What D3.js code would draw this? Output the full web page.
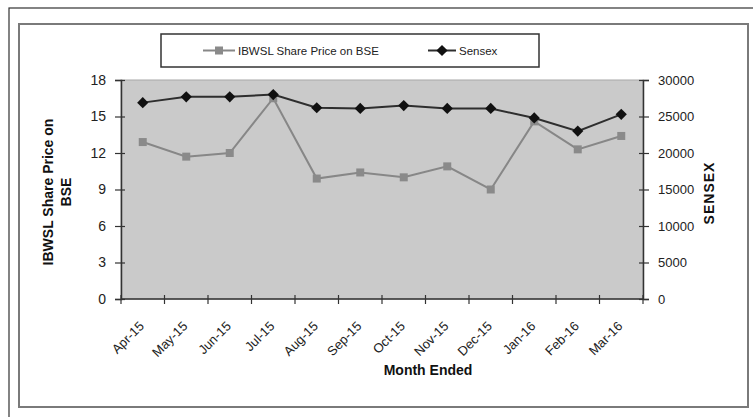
<!DOCTYPE html>
<html>
<head>
<meta charset="utf-8">
<script src="https://cdn.jsdelivr.net/npm/d3@7"></script>
<style>
  body { margin: 0; background: #fff; }
  svg { display: block; font-family: "Liberation Sans", Arial, sans-serif; }
</style>
</head>
<body>
<svg id="chart" width="753" height="417"></svg>
<script>
// data
var months = ["Apr-15", "May-15", "Jun-15", "Jul-15", "Aug-15", "Sep-15",
              "Oct-15", "Nov-15", "Dec-15", "Jan-16", "Feb-16", "Mar-16"];
var ibwsl = [12.9, 11.7, 12.0, 16.5, 9.9, 10.4, 10.0, 10.9, 9.0, 14.6, 12.3, 13.4];
var sensex = [26900, 27700, 27700, 28000, 26200, 26100, 26500, 26100, 26100, 24800, 23000, 25300];
var leftTicks = [0, 3, 6, 9, 12, 15, 18];
var rightTicks = [0, 5000, 10000, 15000, 20000, 25000, 30000];

var svg = d3.select("#chart");

// frames
svg.append("rect").attr("x", 9).attr("y", 8).attr("width", 800).attr("height", 500)
  .attr("fill", "none").attr("stroke", "#333").attr("stroke-width", 1.2);
svg.append("rect").attr("x", 19).attr("y", 24).attr("width", 729).attr("height", 383)
  .attr("fill", "#fff").attr("stroke", "#7a7a7a").attr("stroke-width", 2);

var plot = {left: 121, right: 643, top: 80, bottom: 299};

var x = d3.scaleBand().domain(months).range([plot.left, plot.right]).padding(0);
var y = d3.scaleLinear().domain([0, 18]).range([plot.bottom, plot.top]);
var y2 = d3.scaleLinear().domain([0, 30000]).range([plot.bottom, plot.top]);
var cx = function(d) { return x(d) + x.bandwidth() / 2; };

// plot area
svg.append("rect")
  .attr("x", plot.left).attr("y", plot.top)
  .attr("width", plot.right - plot.left).attr("height", plot.bottom - plot.top)
  .attr("fill", "#cacaca").attr("stroke", "#a8a8a8").attr("stroke-width", 1);

// left axis
var gl = svg.append("g").attr("transform", "translate(" + plot.left + ",0)")
  .call(d3.axisLeft(y).tickValues(leftTicks).tickSizeOuter(0).tickSize(6).tickPadding(9));
// right axis
var gr = svg.append("g").attr("transform", "translate(" + plot.right + ",0)")
  .call(d3.axisRight(y2).tickValues(rightTicks).tickFormat(d3.format("d"))
    .tickSizeOuter(0).tickSize(6).tickPadding(9));
// bottom axis, ticks on category boundaries
var bounds = months.map(function(m) { return x(m); }).concat([plot.right]);
var gb = svg.append("g").attr("transform", "translate(0," + plot.bottom + ")");
gb.append("line").attr("x1", plot.left).attr("x2", plot.right).attr("stroke", "#333").attr("stroke-width", 1.5);
gb.selectAll("line.t").data(bounds).enter().append("line").attr("class", "t")
  .attr("x1", function(d) { return d; }).attr("x2", function(d) { return d; })
  .attr("y1", -4).attr("y2", 5).attr("stroke", "#333").attr("stroke-width", 1.2);

[gl, gr].forEach(function(g) {
  g.select(".domain").attr("stroke", "#333").attr("stroke-width", 1.5);
  g.selectAll(".tick line").attr("stroke", "#333").attr("stroke-width", 1.2);
  g.selectAll(".tick text").attr("fill", "#222")
    .attr("font-family", "'Liberation Sans', Arial, sans-serif");
});
gl.selectAll(".tick text").attr("font-size", 14);
gr.selectAll(".tick text").attr("font-size", 13);
gl.selectAll(".tick line").attr("x1", 4);
gr.selectAll(".tick line").attr("x1", -4);

// month labels
svg.append("g").selectAll("text").data(months).enter().append("text")
  .attr("transform", function(d) { return "translate(" + (cx(d) + 2) + ",327) rotate(-45)"; })
  .attr("text-anchor", "end")
  .attr("font-size", 13).attr("fill", "#222")
  .text(function(d) { return d; });

// axis titles
svg.append("text").attr("x", 428).attr("y", 375).attr("text-anchor", "middle")
  .attr("font-size", 14).attr("font-weight", "bold").attr("fill", "#111").text("Month Ended");
var lt = svg.append("text").attr("transform", "translate(53,192) rotate(-90)")
  .attr("text-anchor", "middle").attr("font-size", 14).attr("font-weight", "bold").attr("fill", "#111");
lt.append("tspan").attr("x", 0).attr("dy", 0).text("IBWSL Share Price on");
lt.append("tspan").attr("x", 0).attr("dy", 18).text("BSE");
svg.append("text").attr("transform", "translate(714,193) rotate(-90)")
  .attr("text-anchor", "middle").attr("font-size", 14).attr("font-weight", "bold")
  .attr("letter-spacing", 1).attr("fill", "#111").text("SENSEX");

// lines
var lineL = d3.line().x(function(d, i) { return cx(months[i]); }).y(function(d) { return y(d); });
var lineR = d3.line().x(function(d, i) { return cx(months[i]); }).y(function(d) { return y2(d); });

svg.append("path").datum(ibwsl).attr("d", lineL)
  .attr("fill", "none").attr("stroke", "#878787").attr("stroke-width", 2);
svg.append("g").selectAll("rect").data(ibwsl).enter().append("rect")
  .attr("x", function(d, i) { return cx(months[i]) - 4; })
  .attr("y", function(d) { return y(d) - 4; })
  .attr("width", 8).attr("height", 8).attr("fill", "#8a8a8a");

svg.append("path").datum(sensex).attr("d", lineR)
  .attr("fill", "none").attr("stroke", "#2e2e2e").attr("stroke-width", 2);
var diamond = d3.symbol().type(d3.symbolDiamond2).size(80);
svg.append("g").selectAll("path").data(sensex).enter().append("path")
  .attr("transform", function(d, i) { return "translate(" + cx(months[i]) + "," + y2(d) + ")"; })
  .attr("d", diamond).attr("fill", "#111");

// legend
var lg = svg.append("g");
lg.append("rect").attr("x", 161).attr("y", 34).attr("width", 378).attr("height", 33)
  .attr("fill", "#fff").attr("stroke", "#333").attr("stroke-width", 1.5);
lg.append("line").attr("x1", 203).attr("x2", 235).attr("y1", 50.5).attr("y2", 50.5)
  .attr("stroke", "#878787").attr("stroke-width", 2);
lg.append("rect").attr("x", 215).attr("y", 46.5).attr("width", 8).attr("height", 8).attr("fill", "#8a8a8a");
lg.append("text").attr("x", 238).attr("y", 54.5).attr("font-size", 11.5).attr("fill", "#222")
  .text("IBWSL Share Price on BSE");
lg.append("line").attr("x1", 428).attr("x2", 456).attr("y1", 50.5).attr("y2", 50.5)
  .attr("stroke", "#2e2e2e").attr("stroke-width", 2);
lg.append("path").attr("transform", "translate(442,50.5)").attr("d", diamond).attr("fill", "#111");
lg.append("text").attr("x", 459).attr("y", 54.5).attr("font-size", 11.5).attr("fill", "#222")
  .text("Sensex");
</script>
</body>
</html>
